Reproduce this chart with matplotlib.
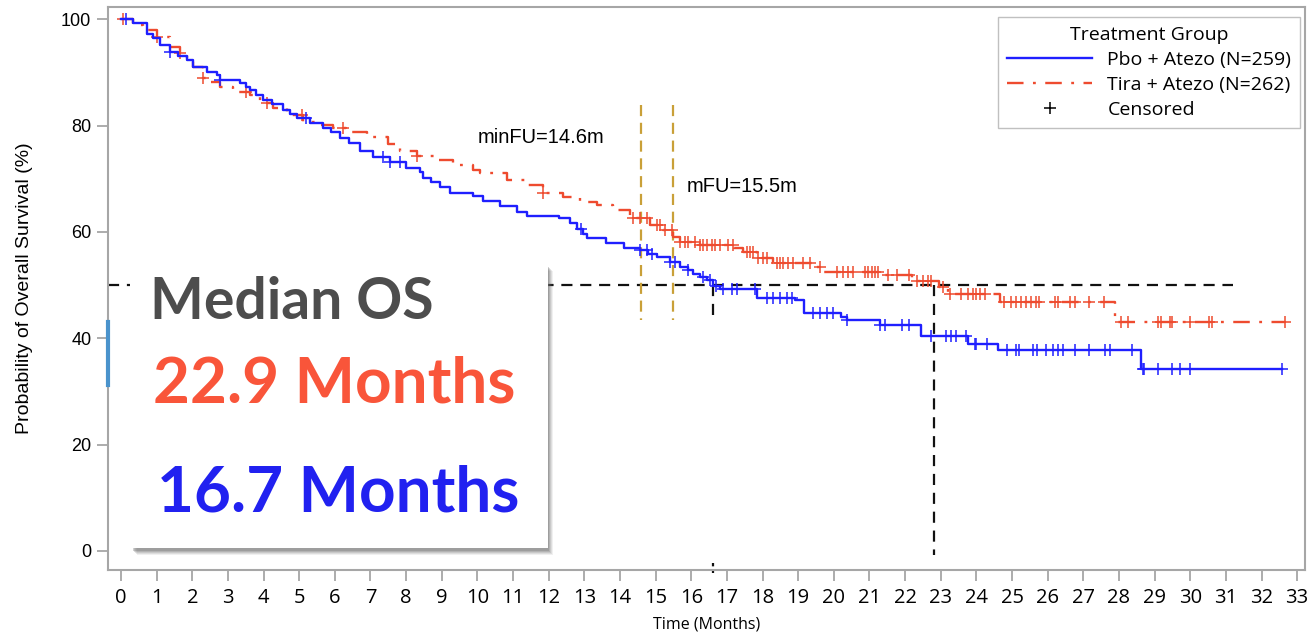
import numpy as np
import matplotlib
matplotlib.use("Agg")
import matplotlib.pyplot as plt
from matplotlib.lines import Line2D
from matplotlib.patches import Rectangle

# Pbo + Atezo (blue) step knots: time of drop, survival after drop
pbo_t = [0, 0.35, 0.72, 0.9, 1.1, 1.37, 1.6, 1.84, 2.03, 2.4, 2.68, 2.78, 3.34, 3.5, 3.62, 3.8,
         3.99, 4.25, 4.55, 4.75, 4.93, 5.3, 5.67, 5.9, 6.15, 6.4, 6.7, 7.07, 7.55, 8.0, 8.39, 8.47,
         8.7, 8.95, 9.23, 9.88, 10.16, 10.63, 11.1, 11.38, 12.3, 12.6, 12.8, 12.95, 13.07, 13.6,
         14.1, 14.56, 14.8, 15.03, 15.4, 15.68, 15.9, 16.06, 16.25, 16.43, 16.6, 16.8, 17.84,
         18.9, 19.15, 20.2, 20.36, 21.3, 22.44, 23.77, 24.62, 28.62]
pbo_s = [100, 99.2, 97.3, 96.5, 95.1, 93.8, 93.0, 92.3, 91.0, 90.1, 89.5, 88.5, 88.0, 87.3, 86.7, 85.8,
         84.8, 84.0, 82.9, 82.2, 81.4, 80.4, 79.5, 78.8, 77.6, 76.8, 75.2, 74.1, 73.2, 72.0, 71.3, 70.2,
         69.3, 68.4, 67.3, 66.8, 65.8, 64.8, 63.8, 63.0, 62.6, 61.6, 60.5, 59.6, 58.8, 58.0,
         57.0, 56.5, 55.8, 55.2, 54.4, 53.4, 52.8, 52.1, 51.5, 50.9, 49.8, 49.3, 47.6,
         47.1, 44.7, 44.0, 43.4, 42.4, 40.4, 39.0, 37.8, 34.3]
pbo_end = 32.57
pbo_cens = [0.15, 1.37, 2.78, 5.2, 7.36, 7.55, 7.83, 12.9, 14.56, 14.75, 14.89, 15.4, 15.55, 15.92,
            16.33, 16.52, 16.7, 16.9, 17.13, 17.28, 17.79, 18.12, 18.3, 18.49, 18.68, 18.82, 19.42,
            19.61, 19.8, 19.98, 20.36, 21.3, 21.44, 21.91, 22.1, 22.73, 23.15, 23.3, 23.42, 23.7,
            23.96, 24.0, 24.3, 24.86, 25.1, 25.2, 25.6, 25.7, 25.95, 26.14, 26.29, 26.43, 26.76,
            27.15, 27.6, 27.76, 28.38, 28.67, 28.7, 29.1, 29.48, 29.71, 30.0, 32.57]

# Tira + Atezo (red)
tira_t = [0, 0.34, 0.63, 1.0, 1.37, 1.66, 1.84, 2.03, 2.31, 2.5, 2.78, 3.15, 3.62, 3.9, 4.27, 4.65,
          5.1, 5.58, 5.95, 6.3, 6.9, 7.5, 7.83, 8.3, 8.86, 9.32, 9.88, 10.07, 10.82, 11.38, 11.85,
          12.4, 12.88, 13.35, 13.8, 14.28, 14.84, 15.2, 15.5, 15.68, 16.25, 17.2, 17.45, 17.84,
          18.3, 19.4, 19.7, 21.3, 22.2, 22.95, 23.2, 24.67, 27.9]
tira_s = [100, 98.9, 97.9, 96.7, 94.8, 93.6, 92.7, 91.0, 88.9, 88.2, 87.3, 86.3, 85.7, 84.2, 83.3, 82.0,
          80.7, 80.1, 79.5, 78.7, 77.9, 76.5, 75.3, 74.3, 73.5, 72.5, 71.6, 71.0, 69.7, 68.8, 67.3,
          66.6, 65.7, 65.0, 64.1, 62.6, 61.3, 60.3, 59.1, 58.1, 57.5, 57.0, 56.3, 55.1,
          54.1, 53.4, 52.5, 51.8, 50.8, 49.7, 48.4, 46.9, 43.1]
tira_end = 32.66
tira_cens = [0.05, 1.0, 1.66, 2.31, 3.52, 4.09, 5.07, 6.23, 8.3, 11.85, 14.37, 14.56, 14.75, 15.03,
             15.12, 15.26, 15.45, 15.68, 15.82, 15.92, 16.1, 16.25, 16.34, 16.43, 16.57, 16.67, 16.8,
             17.04, 17.18, 17.56, 17.65, 17.74, 17.88, 18.02, 18.12, 18.4, 18.49, 18.58, 18.72,
             18.86, 19.14, 19.33, 19.61, 20.08, 20.27, 20.41, 20.55, 20.88, 20.97, 21.06, 21.16,
             21.25, 21.53, 21.77, 22.1, 22.34, 22.49, 22.63, 22.72, 23.05, 23.25, 23.58, 23.77,
             23.91, 24.0, 24.1, 24.24, 24.77, 24.96, 25.1, 25.24, 25.39, 25.53, 25.67, 25.77, 26.2,
             26.29, 26.62, 26.77, 27.15, 27.57, 28.05, 28.24, 29.1, 29.19, 29.43, 29.48, 29.99,
             30.52, 30.62, 32.66]

median_pbo = 16.6     # drawn position of the 16.7 m median line
median_tira = 22.8    # drawn position of the 22.9 m median line
min_fu = 14.6
med_fu = 15.5

BLUE = "#1f1fff"
RED = "#ee4b2f"
GOLD = "#c9a038"
GRAY = "#a6a6a6"


def surv_at(times, surv, c):
    i = np.searchsorted(times, c, side="right") - 1
    return surv[max(i, 0)]


fig = plt.figure(figsize=(13.11, 6.41), dpi=100)
ax = fig.add_axes([108 / 1311, 1 - 570 / 641, 1197 / 1311, 563 / 641])
xmin, xmax = -0.365, 33.22
ymin, ymax = -3.6, 102.3
ax.set_xlim(xmin, xmax)
ax.set_ylim(ymin, ymax)

# reference lines
ax.plot([xmin, 31.2], [50, 50], color="#111111", lw=1.6, ls=(0, (5, 3.5)), zorder=2)
ax.plot([median_pbo, median_pbo], [50, 43.5], color="#111111", lw=1.6, ls=(0, (5, 3.5)), zorder=2)
ax.plot([median_pbo, median_pbo], [-2.2, -4.6], color="#111111", lw=1.6, ls=(0, (1.5, 1.5)),
        zorder=2, clip_on=False)
ax.plot([median_tira, median_tira], [50, -0.8], color="#111111", lw=1.6, ls=(0, (5, 3.5)), zorder=2)
for xv in (min_fu, med_fu):
    ax.plot([xv, xv], [83.8, 43.5], color=GOLD, lw=1.6, ls=(0, (5, 3)), zorder=2)
ax.text(11.78, 77.8, "minFU=14.6m", fontsize=14.5, family="Liberation Sans", ha="center", va="center")
ax.text(17.42, 68.6, "mFU=15.5m", fontsize=14.5, family="Liberation Sans", ha="center", va="center")

# KM curves
ax.plot(pbo_t + [pbo_end], pbo_s + [pbo_s[-1]], drawstyle="steps-post", color=BLUE, lw=1.7, zorder=4)
ax.plot(tira_t + [tira_end], tira_s + [tira_s[-1]], drawstyle="steps-post", color=RED, lw=1.7,
        ls=(0, (7, 4, 1.2, 4)), zorder=3)
ax.plot(pbo_cens, [surv_at(pbo_t, pbo_s, c) for c in pbo_cens], "+", color=BLUE, ms=8.5, mew=1.1, zorder=4)
ax.plot(tira_cens, [surv_at(tira_t, tira_s, c) for c in tira_cens], "+", color=RED, ms=8.5, mew=1.1, zorder=3)

# small blue artefact on the left spine
ax.plot([xmin, xmin], [31.2, 43], color="#4a93cc", lw=3, clip_on=False, zorder=5)

# axes styling
for sp in ax.spines.values():
    sp.set_color(GRAY)
    sp.set_linewidth(1.5)
ax.set_xticks(range(0, 34))
ax.set_yticks([0, 20, 40, 60, 80, 100])
ax.tick_params(axis="both", direction="out", length=8, width=1.3, color=GRAY)
ax.tick_params(axis="x", labelsize=14.5, pad=5)
ax.tick_params(axis="y", labelsize=13, pad=4)
for lab in ax.get_xticklabels():
    lab.set_family("Open Sans")
for lab in ax.get_yticklabels():
    lab.set_family("Liberation Sans")
ax.set_xlabel("Time (Months)", fontsize=11.5, family="Open Sans", labelpad=6)
ax.set_ylabel("Probability of Overall Survival (%)", fontsize=14, family="Liberation Sans", labelpad=20)

# legend
handles = [Line2D([], [], color=BLUE, lw=1.7),
           Line2D([], [], color=RED, lw=1.7, ls=(0, (7, 4, 1.2, 4))),
           Line2D([], [], color="black", ls="none", marker="+", ms=9, mew=1.1)]
leg = ax.legend(handles, ["Pbo + Atezo (N=259)", "Tira + Atezo (N=262)", "Censored"],
                title="Treatment Group", loc="upper right", bbox_to_anchor=(0.9958, 0.982),
                borderaxespad=0, handlelength=4.4, handletextpad=0.77,
                borderpad=0.45, labelspacing=0.36, fancybox=False, framealpha=1,
                prop={"family": "Open Sans", "size": 14}, title_fontproperties={"family": "Open Sans", "size": 14})
leg.get_frame().set_edgecolor("#c0c0c0")

# Median OS box with a soft shadow
for k, a in enumerate([0.10, 0.14, 0.18, 0.24, 0.32]):
    off = 7 - k
    fig.patches.append(Rectangle(((130 + off) / 1311, 1 - (548 + off) / 641), 416 / 1311,
                                 284 / 641, transform=fig.transFigure, color="#707070",
                                 alpha=a, lw=0, zorder=9))
fig.patches.append(Rectangle((130 / 1311, 1 - 548 / 641), 418 / 1311, 286 / 641,
                             transform=fig.transFigure, color="white", lw=0, zorder=10))
fig.text(150 / 1311, 1 - 303 / 641, "Median OS", fontsize=41, weight="bold", color="#4d4d4d",
         family="Lato", va="center", ha="left", zorder=11)
fig.text(153 / 1311, 1 - 384 / 641, "22.9 Months", fontsize=46, weight="bold", color="#f9553a",
         family="Lato", va="center", ha="left", zorder=11)
fig.text(157 / 1311, 1 - 493 / 641, "16.7 Months", fontsize=46, weight="bold", color="#2121f0",
         family="Lato", va="center", ha="left", zorder=11)

fig.savefig("out.png", dpi=100)
